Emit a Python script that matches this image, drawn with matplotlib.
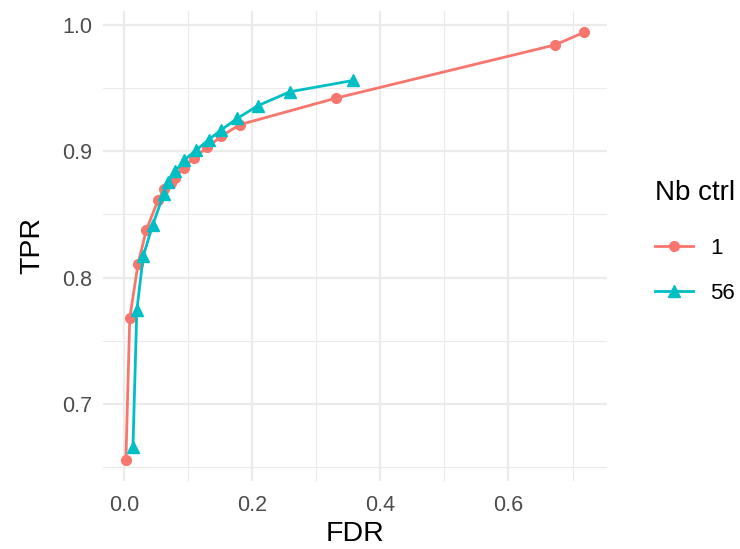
import matplotlib

matplotlib.use("Agg")
import matplotlib.pyplot as plt
import numpy as np

# Nb ctrl = 1
fdr_1 = [0.003, 0.009, 0.022, 0.035, 0.053, 0.063, 0.073, 0.080, 0.093, 0.110,
         0.130, 0.152, 0.181, 0.331, 0.672, 0.718]
tpr_1 = [0.656, 0.768, 0.811, 0.838, 0.861, 0.870, 0.875, 0.879, 0.887, 0.895,
         0.903, 0.912, 0.921, 0.942, 0.984, 0.994]

# Nb ctrl = 56
fdr_56 = [0.014, 0.020, 0.030, 0.045, 0.062, 0.069, 0.080, 0.094, 0.113, 0.132,
          0.152, 0.177, 0.209, 0.259, 0.358]
tpr_56 = [0.666, 0.774, 0.817, 0.842, 0.866, 0.876, 0.884, 0.893, 0.901, 0.909,
          0.917, 0.926, 0.936, 0.947, 0.956]

group_labels = ["1", "56"]
x_ticks = [0.0, 0.2, 0.4, 0.6]
y_ticks = [0.7, 0.8, 0.9, 1.0]

W, H = 740, 549
fig = plt.figure(figsize=(W / 100, H / 100), dpi=100)
plt.rcParams["font.family"] = ["Liberation Sans", "DejaVu Sans"]

left, right, top, bottom = 103, 607, 11, 481
ax = fig.add_axes([left / W, 1 - bottom / H, (right - left) / W, (bottom - top) / H])

ax.plot(fdr_1, tpr_1, color="#F8766D", lw=2, marker="o", ms=7, label=group_labels[0], zorder=3)
ax.plot(fdr_56, tpr_56, color="#00BFC4", lw=2, marker="^", ms=8, label=group_labels[1], zorder=3)
ax.margins(x=0.05, y=0.05)

ax.set_xticks(x_ticks)
ax.set_yticks(y_ticks)
ax.set_xticks([0.1, 0.3, 0.5, 0.7], minor=True)
ax.set_yticks([0.65, 0.75, 0.85, 0.95], minor=True)
ax.set_xticklabels([f"{v:.1f}" for v in x_ticks])
ax.set_yticklabels([f"{v:.1f}" for v in y_ticks])
ax.grid(which="major", color="#EBEBEB", lw=1.6)
ax.grid(which="minor", color="#EBEBEB", lw=0.8)
ax.set_axisbelow(True)
for s in ax.spines.values():
    s.set_visible(False)
ax.tick_params(which="both", length=0)
ax.tick_params(axis="x", labelsize=15.5, labelcolor="#4D4D4D", pad=10)
ax.tick_params(axis="y", labelsize=15.5, labelcolor="#4D4D4D", pad=8)

ax.set_xlabel("FDR", fontsize=20.5, labelpad=4)
ax.set_ylabel("TPR", fontsize=20.5, labelpad=12)

leg = ax.legend(title="Nb ctrl", loc="center left", bbox_to_anchor=(635 / W, 1 - 242 / H),
                bbox_transform=fig.transFigure, frameon=False, fontsize=16,
                title_fontsize=20, handlelength=1.7, labelspacing=1.1,
                handletextpad=0.8, alignment="left")
leg._legend_box.sep = 23

fig.savefig("out.png", dpi=100)
